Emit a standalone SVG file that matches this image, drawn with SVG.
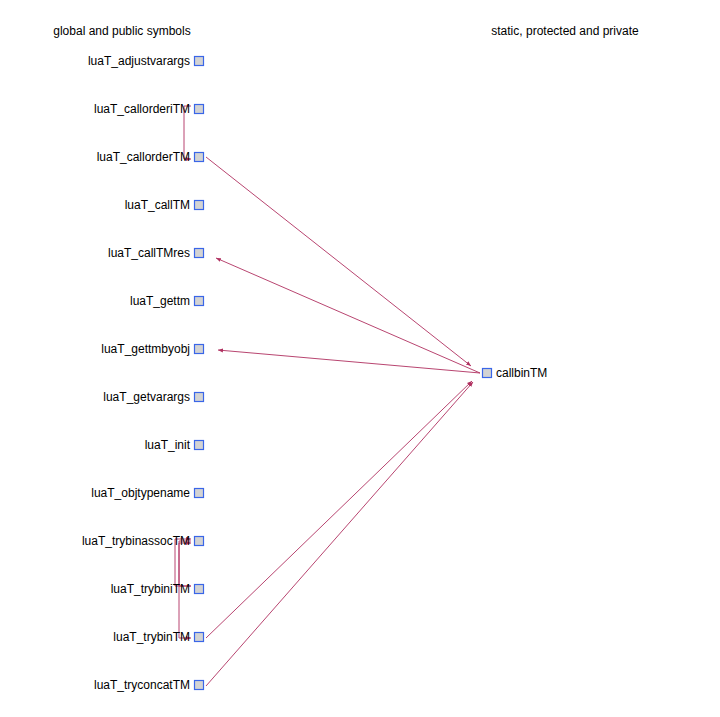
<svg xmlns="http://www.w3.org/2000/svg" width="720" height="717" viewBox="0 0 720 717">
<style>
text{font-family:"Liberation Sans",Arial,sans-serif;font-size:12px;fill:#000}
.n rect{fill:#d3d3d3;stroke:#3a66e8;stroke-width:1.2}
.e{fill:none;stroke:#b03060;stroke-width:0.9}
</style>
<defs>
<marker id="a" viewBox="0 0 10 10" refX="10" refY="5" markerWidth="5" markerHeight="5" orient="auto" markerUnits="userSpaceOnUse">
<path d="M0,1 L10,5 L0,9 z" fill="#b03060"/>
</marker>
</defs>
<rect width="720" height="717" fill="#fff"/>
<text x="122" y="35" text-anchor="middle">global and public symbols</text>
<text x="565" y="35" text-anchor="middle">static, protected and private</text>
<g id="connectors">
<path class="e" marker-end="url(#a)" d="M191,106 H184 V159 H191"/>
<path class="e" marker-end="url(#a)" d="M206,157 L471,366"/>
<path class="e" marker-end="url(#a)" d="M480,373 L216,258"/>
<path class="e" marker-end="url(#a)" d="M480,373 L218,350"/>
<path class="e" marker-end="url(#a)" d="M191,586 H175 V539 H191"/>
<path class="e" marker-end="url(#a)" d="M191,586 H179 V543 H191"/>
<path class="e" marker-end="url(#a)" d="M191,541 H179 V638 H191"/>
<path class="e" marker-end="url(#a)" d="M206,638 L472,381"/>
<path class="e" marker-end="url(#a)" d="M206,686 L473,382"/>
</g>
<g id="n_adjustvarargs" class="n"><rect x="194.5" y="56.5" width="9" height="9"/><text x="190" y="65" text-anchor="end">luaT_adjustvarargs</text></g>
<g id="n_callorderiTM" class="n"><rect x="194.5" y="104.5" width="9" height="9"/><text x="190" y="113" text-anchor="end">luaT_callorderiTM</text></g>
<g id="n_callorderTM" class="n"><rect x="194.5" y="152.5" width="9" height="9"/><text x="190" y="161" text-anchor="end">luaT_callorderTM</text></g>
<g id="n_callTM" class="n"><rect x="194.5" y="200.5" width="9" height="9"/><text x="190" y="209" text-anchor="end">luaT_callTM</text></g>
<g id="n_callTMres" class="n"><rect x="194.5" y="248.5" width="9" height="9"/><text x="190" y="257" text-anchor="end">luaT_callTMres</text></g>
<g id="n_gettm" class="n"><rect x="194.5" y="296.5" width="9" height="9"/><text x="190" y="305" text-anchor="end">luaT_gettm</text></g>
<g id="n_gettmbyobj" class="n"><rect x="194.5" y="344.5" width="9" height="9"/><text x="190" y="353" text-anchor="end">luaT_gettmbyobj</text></g>
<g id="n_getvarargs" class="n"><rect x="194.5" y="392.5" width="9" height="9"/><text x="190" y="401" text-anchor="end">luaT_getvarargs</text></g>
<g id="n_init" class="n"><rect x="194.5" y="440.5" width="9" height="9"/><text x="190" y="449" text-anchor="end">luaT_init</text></g>
<g id="n_objtypename" class="n"><rect x="194.5" y="488.5" width="9" height="9"/><text x="190" y="497" text-anchor="end">luaT_objtypename</text></g>
<g id="n_trybinassocTM" class="n"><rect x="194.5" y="536.5" width="9" height="9"/><text x="190" y="545" text-anchor="end">luaT_trybinassocTM</text></g>
<g id="n_trybiniTM" class="n"><rect x="194.5" y="584.5" width="9" height="9"/><text x="190" y="593" text-anchor="end">luaT_trybiniTM</text></g>
<g id="n_trybinTM" class="n"><rect x="194.5" y="632.5" width="9" height="9"/><text x="190" y="641" text-anchor="end">luaT_trybinTM</text></g>
<g id="n_tryconcatTM" class="n"><rect x="194.5" y="680.5" width="9" height="9"/><text x="190" y="689" text-anchor="end">luaT_tryconcatTM</text></g>
<g id="n_callbinTM" class="n"><rect x="482.5" y="368.5" width="9" height="9"/><text x="496" y="377">callbinTM</text></g>
</svg>
